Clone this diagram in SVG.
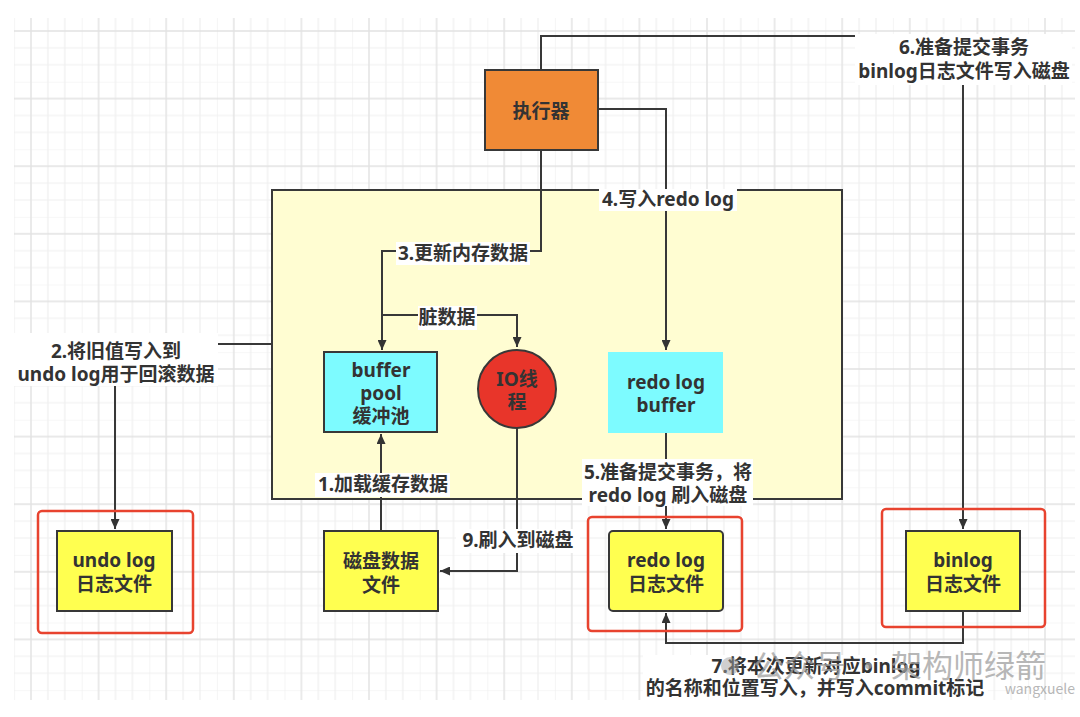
<svg xmlns="http://www.w3.org/2000/svg" width="1080" height="717" viewBox="0 0 1080 717">
<defs>
<style>
.t{font-family:"Noto Sans","Noto Sans CJK SC",sans-serif;font-weight:bold;font-size:19px;fill:#333;text-anchor:middle;dominant-baseline:central}
.ln{fill:none;stroke:#383838;stroke-width:2}
.bg{fill:#fff}
.box{stroke:#383838;stroke-width:2}
.hl{fill:none;stroke:#e8432f;stroke-width:2.5}
.wm{font-family:"Noto Sans CJK SC",sans-serif;fill:#a0a0a0;opacity:0.75}
</style>
<pattern id="grid" x="14.1" y="14.1" width="67.6" height="67.6" patternUnits="userSpaceOnUse">
<path d="M0,0V67.6M33.8,0V67.6M50.7,0V67.6M0,0H67.6M0,33.8H67.6M0,50.7H67.6" stroke="#efefef" stroke-width="1.2" fill="none"/>
<path d="M16.9,0V67.6M0,16.9H67.6" stroke="#e2e2e2" stroke-width="1.4" fill="none"/>
</pattern>
<marker id="arr" viewBox="0 0 10 9" refX="10" refY="4.5" markerWidth="10" markerHeight="9" markerUnits="userSpaceOnUse" orient="auto">
<path d="M0,0L10,4.5L0,9z" fill="#333"/>
</marker>
</defs>
<rect width="1080" height="717" fill="#fff"/>
<rect x="14" y="18" width="1061" height="682" fill="url(#grid)"/>

<g id="container">
<rect x="272" y="190" width="570" height="309" fill="#fffdd2" stroke="#383838" stroke-width="2"/>
</g>

<g id="connectors">
<path class="ln" d="M381,531V434" marker-end="url(#arr)"/>
<path class="ln" d="M272,344H115V529" marker-end="url(#arr)"/>
<path class="ln" d="M541,150V251H382V350" marker-end="url(#arr)"/>
<path class="ln" d="M382,315H517V347" marker-end="url(#arr)"/>
<path class="ln" d="M598,109H666V350" marker-end="url(#arr)"/>
<path class="ln" d="M666,433V529" marker-end="url(#arr)"/>
<path class="ln" d="M541,70V36H963V529" marker-end="url(#arr)"/>
<path class="ln" d="M963,611V643H666V613" marker-end="url(#arr)"/>
<path class="ln" d="M517,428V571H440" marker-end="url(#arr)"/>
</g>

<g id="labels">
<rect class="bg" x="855" y="34" width="217" height="51"/>
<text class="t" x="964" y="47">6.准备提交事务</text>
<text class="t" x="964" y="71">binlog日志文件写入磁盘</text>
<rect class="bg" x="599" y="189" width="138" height="22"/>
<text class="t" x="668" y="199">4.写入redo log</text>
<rect class="bg" x="396" y="242" width="134" height="23"/>
<text class="t" x="463" y="253">3.更新内存数据</text>
<rect class="bg" x="418" y="306" width="59" height="24"/>
<text class="t" x="447" y="317">脏数据</text>
<rect class="bg" x="13" y="333" width="205" height="53"/>
<text class="t" x="116" y="351">2.将旧值写入到</text>
<text class="t" x="116" y="374">undo log用于回滚数据</text>
<rect class="bg" x="315" y="473" width="135" height="24"/>
<text class="t" x="383" y="484">1.加载缓存数据</text>
<rect class="bg" x="456" y="529" width="124" height="24"/>
<text class="t" x="518" y="540">9.刷入到磁盘</text>
<rect class="bg" x="582" y="459" width="171" height="47"/>
<text class="t" x="668" y="472">5.准备提交事务，将</text>
<text class="t" x="668" y="495">redo log 刷入磁盘</text>
<rect class="bg" x="643" y="655" width="345" height="45"/>
<text class="t" x="816" y="666">7.将本次更新对应binlog</text>
<text class="t" x="815" y="688">的名称和位置写入，并写入commit标记</text>
</g>

<g id="executor">
<rect class="box" x="485" y="70" width="113" height="80" fill="#f08a36" stroke-width="2.5"/>
<text class="t" x="541" y="111">执行器</text>
</g>

<g id="buffer-pool">
<rect class="box" x="324" y="352" width="113" height="80" fill="#7dfbff"/>
<text class="t" x="381" y="370">buffer</text>
<text class="t" x="381" y="393">pool</text>
<text class="t" x="381" y="416">缓冲池</text>
</g>

<g id="io-thread">
<circle cx="517" cy="389" r="39" fill="#e8352a" stroke="#383838" stroke-width="2"/>
<text class="t" x="517" y="379">IO线</text>
<text class="t" x="517" y="402">程</text>
</g>

<g id="redo-log-buffer">
<rect x="608" y="352" width="115" height="81" fill="#7dfbff"/>
<text class="t" x="666" y="382">redo log</text>
<text class="t" x="666" y="405">buffer</text>
</g>

<g id="undo-log-file">
<rect class="hl" x="38" y="511" width="155" height="122" rx="4"/>
<rect class="box" x="57" y="531" width="115" height="80" fill="#ffff50"/>
<text class="t" x="114" y="560">undo log</text>
<text class="t" x="114" y="584">日志文件</text>
</g>

<g id="disk-data-file">
<rect class="box" x="324" y="531" width="114" height="80" fill="#ffff50"/>
<text class="t" x="381" y="561">磁盘数据</text>
<text class="t" x="381" y="585">文件</text>
</g>

<g id="redo-log-file">
<rect class="hl" x="588" y="517" width="154" height="114" rx="4"/>
<rect class="box" x="609" y="531" width="114" height="80" rx="4" fill="#ffff50"/>
<text class="t" x="666" y="560">redo log</text>
<text class="t" x="666" y="584">日志文件</text>
</g>

<g id="binlog-file">
<rect class="hl" x="882" y="509" width="163" height="118" rx="4"/>
<rect class="box" x="906" y="531" width="114" height="80" fill="#ffff50"/>
<text class="t" x="963" y="560">binlog</text>
<text class="t" x="963" y="584">日志文件</text>
</g>

<g id="watermark">
<circle cx="730" cy="666" r="9" fill="#a0a0a0" opacity="0.5"/>
<text class="wm" x="753" y="677" font-size="31">公众号 · 架构师绿箭</text>
<text class="wm" x="1075" y="694" font-size="14" text-anchor="end">wangxuele</text>
</g>
</svg>
